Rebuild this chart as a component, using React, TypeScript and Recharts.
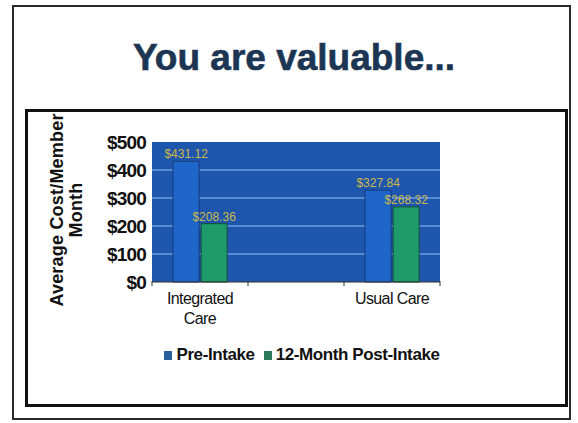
import * as React from "react"
import { BarChart, Bar, XAxis, YAxis, CartesianGrid, Legend, LabelList, Text } from "recharts"

const categories = ["Integrated Care", "", "Usual Care"]
const preIntake = [431.12, null, 327.84]
const postIntake = [208.36, null, 268.32]
const yTicks = [0, 100, 200, 300, 400, 500]
const gridValues = [100, 200, 300, 400]
const yMax = 500

const data = categories.map((name, i) => ({
  name,
  pre: preIntake[i],
  post: postIntake[i],
}))

const FONT = "'Liberation Sans', Arial, sans-serif"
const money = (v: any) => (v == null ? "" : `$${Number(v).toFixed(2)}`)

function CategoryTick(props: any) {
  const { x, y, payload, index } = props
  const half = payload?.offset ?? 0
  return (
    <g>
      <line x1={x - half} x2={x - half} y1={y - 1} y2={y + 4} stroke="#333" />
      {index === categories.length - 1 && (
        <line x1={x + half} x2={x + half} y1={y - 1} y2={y + 4} stroke="#333" />
      )}
      {payload.value ? (
        <Text
          x={x}
          y={y + 11}
          width={half * 2 - 12}
          textAnchor="middle"
          verticalAnchor="start"
          lineHeight={20}
          style={{ fontSize: 16, fontFamily: FONT, letterSpacing: -0.6 }}
          fill="#111"
        >
          {payload.value}
        </Text>
      ) : null}
    </g>
  )
}

function YLabel() {
  const cx = 66
  const cy = 210
  return (
    <text
      x={cx}
      y={cy}
      transform={`rotate(-90, ${cx}, ${cy})`}
      textAnchor="middle"
      style={{ fontSize: 18, fontWeight: "bold", fontFamily: FONT, letterSpacing: 0.2 }}
      fill="#111"
    >
      <tspan x={cx} dy={-3}>Average Cost/Member</tspan>
      <tspan x={cx} dy={19}>Month</tspan>
    </text>
  )
}

function LegendContent() {
  const items = [
    { label: "Pre-Intake", color: "#2b5e9e" },
    { label: "12-Month Post-Intake", color: "#2b7a5c" },
  ]
  return (
    <div style={{ display: "flex", justifyContent: "center", gap: 9, fontFamily: FONT }}>
      {items.map((it) => (
        <div key={it.label} style={{ display: "flex", alignItems: "center", gap: 4 }}>
          <span style={{ width: 8, height: 9, background: it.color, display: "inline-block" }} />
          <span style={{ fontSize: 17, fontWeight: "bold", letterSpacing: -0.4, color: "#111" }}>
            {it.label}
          </span>
        </div>
      ))}
    </div>
  )
}

export default function App() {
  return (
    <div style={{ position: "absolute", left: 0, top: 0, width: 578, height: 423, background: "#fff" }}>
      <div style={{ position: "absolute", left: 12, top: 5, width: 559, height: 415, border: "2px solid #2a2a2a", boxSizing: "border-box" }} />
      <div style={{ position: "absolute", left: 25, top: 109, width: 543, height: 298, border: "3px solid #111", boxSizing: "border-box" }} />
      <div
        style={{
          position: "absolute",
          left: 0,
          top: 37,
          width: 588,
          textAlign: "center",
          fontFamily: FONT,
          fontWeight: "bold",
          fontSize: 37,
          color: "#1b3553",
          WebkitTextStroke: "0.6px #1b3553",
        }}
      >
        You are valuable...
      </div>
      <div style={{ position: "absolute", left: 0, top: 0 }}>
        <BarChart
          width={578}
          height={423}
          data={data}
          margin={{ top: 142, right: 138, bottom: 81, left: 0 }}
          barCategoryGap="22%"
          barGap={2}
        >
          <CartesianGrid
            vertical={false}
            fill="#1e56ad"
            stroke="#6d9ee2"
            strokeWidth={1.5}
            horizontalCoordinatesGenerator={({ offset }: any) =>
              gridValues.map((v) => offset.top + offset.height * (1 - v / yMax))
            }
          />
          <XAxis
            dataKey="name"
            interval={0}
            height={60}
            tickSize={0}
            tickMargin={0}
            axisLine={{ stroke: "#333" }}
            tick={<CategoryTick />}
          />
          <YAxis
            width={152}
            domain={[0, yMax]}
            ticks={yTicks}
            tickFormatter={(v: number) => `$${v}`}
            axisLine={false}
            tickLine={false}
            tickSize={0}
            tickMargin={6}
            tick={{ fontSize: 19, fontWeight: "bold", fill: "#111", fontFamily: FONT, letterSpacing: -0.8 }}
            label={{ content: () => <YLabel /> }}
          />
          <Legend
            layout="horizontal"
            verticalAlign="middle"
            align="center"
            wrapperStyle={{ top: 345, left: 0, width: 604 }}
            content={() => <LegendContent />}
          />
          <Bar dataKey="pre" name="Pre-Intake" fill="#1f66ca" stroke="#163c7c" isAnimationActive={false}>
            <LabelList dataKey="pre" position="top" offset={3} formatter={money} fill="#cdb84a" fontSize={12} fontFamily={FONT} />
          </Bar>
          <Bar dataKey="post" name="12-Month Post-Intake" fill="#1e9a6b" stroke="#134f36" isAnimationActive={false}>
            <LabelList dataKey="post" position="top" offset={3} formatter={money} fill="#cdb84a" fontSize={12} fontFamily={FONT} />
          </Bar>
        </BarChart>
      </div>
    </div>
  )
}
